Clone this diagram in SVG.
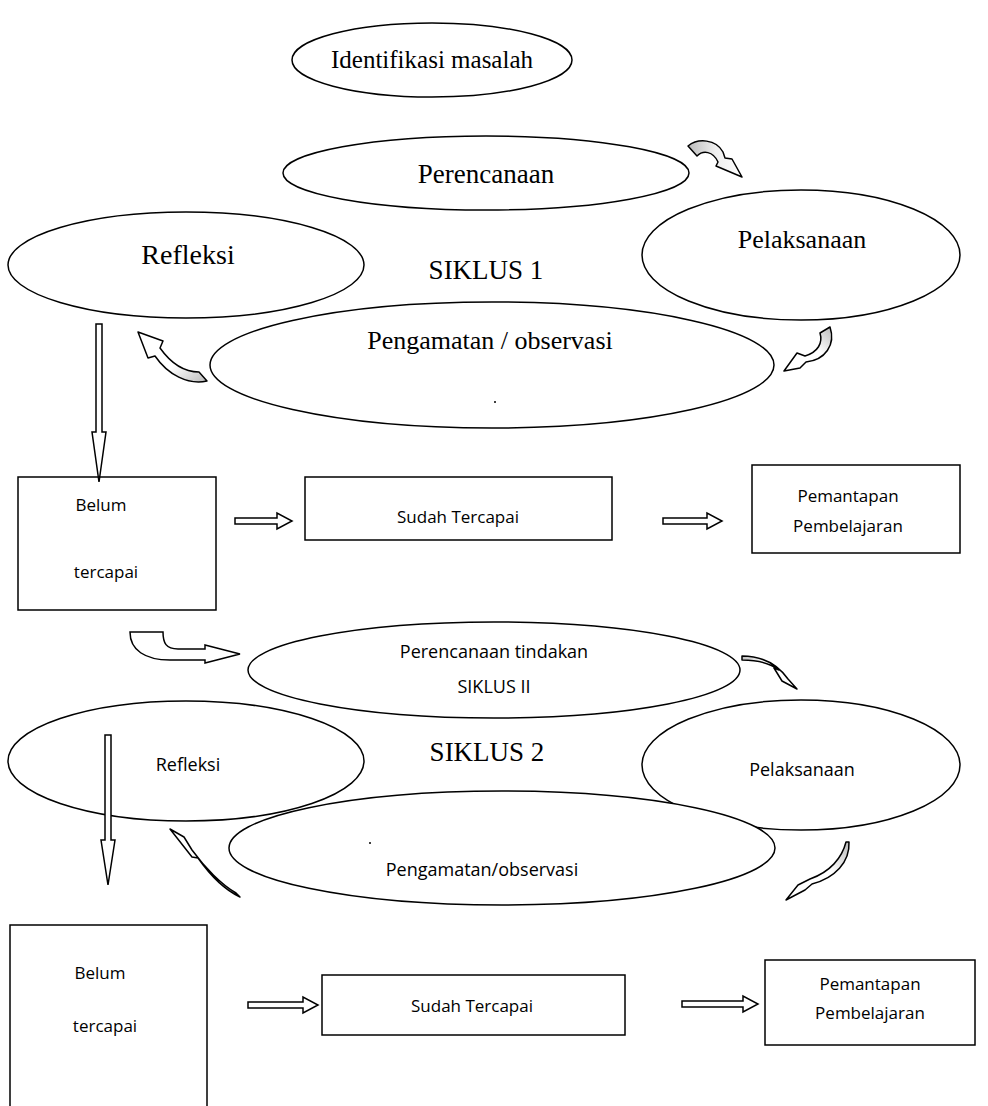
<svg xmlns="http://www.w3.org/2000/svg" width="988" height="1106" viewBox="0 0 988 1106">
<defs>
<style>
.n{fill:#fff;stroke:#000;stroke-width:1.5}
.s{font-family:"Liberation Serif",serif;font-size:26px;fill:#000;text-anchor:middle}
.t{font-family:"Open Sans","Liberation Sans",sans-serif;font-size:17px;fill:#000;text-anchor:middle}
.a{fill:#fff;stroke:#000;stroke-width:1.5;stroke-linejoin:miter}
.c{stroke:#000;stroke-width:1.5;stroke-linejoin:round}
</style>
<linearGradient id="gA" x1="0" y1="0" x2="1" y2="0"><stop offset="0" stop-color="#bbb"/><stop offset="0.5" stop-color="#eee"/><stop offset="1" stop-color="#fff"/></linearGradient>
<linearGradient id="gB" x1="1" y1="1" x2="0" y2="0"><stop offset="0" stop-color="#bbb"/><stop offset="0.4" stop-color="#fff"/></linearGradient>
<linearGradient id="gC" x1="1" y1="0" x2="0" y2="1"><stop offset="0" stop-color="#bbb"/><stop offset="0.4" stop-color="#fff"/></linearGradient>
<linearGradient id="gE" x1="0" y1="0" x2="1" y2="1"><stop offset="0" stop-color="#bbb"/><stop offset="0.3" stop-color="#fff"/></linearGradient>
</defs>

<g id="identifikasi"><ellipse class="n" cx="432" cy="60" rx="140" ry="37"/><text class="s" x="432" y="68" style="font-size:25px">Identifikasi masalah</text></g>
<g id="perencanaan1"><ellipse class="n" cx="486" cy="173" rx="203" ry="37"/><text class="s" x="486" y="183" style="font-size:27px">Perencanaan</text></g>
<g id="refleksi1"><ellipse class="n" cx="186" cy="265" rx="178" ry="53"/><text class="s" x="188" y="264" style="font-size:28px">Refleksi</text></g>
<g id="pelaksanaan1"><ellipse class="n" cx="801" cy="255" rx="159" ry="65"/><text class="s" x="802" y="248">Pelaksanaan</text></g>
<text class="s" x="486" y="279" style="font-size:27px">SIKLUS 1</text>
<g id="pengamatan1"><ellipse class="n" cx="492" cy="365" rx="282" ry="63"/><text class="s" x="490" y="349">Pengamatan / observasi</text><circle cx="495" cy="402" r="1" fill="#000"/></g>

<g id="belum1"><rect class="n" x="18" y="477" width="198" height="133"/><text class="t" x="101" y="511">Belum</text><text class="t" x="106" y="578">tercapai</text></g>
<g id="sudah1"><rect class="n" x="305" y="477" width="307" height="63"/><text class="t" x="458" y="523">Sudah Tercapai</text></g>
<g id="pemantapan1"><rect class="n" x="752" y="465" width="208" height="88"/><text class="t" x="848" y="502">Pemantapan</text><text class="t" x="848" y="532">Pembelajaran</text></g>

<g id="perencanaan2"><ellipse class="n" cx="494" cy="670" rx="246" ry="48"/><text class="t" x="494" y="658" style="font-size:18px">Perencanaan tindakan</text><text class="t" x="494" y="693" style="font-size:18px">SIKLUS II</text></g>
<g id="refleksi2"><ellipse class="n" cx="186" cy="761" rx="178" ry="60"/><text class="t" x="188" y="771" style="font-size:18px">Refleksi</text></g>
<text class="s" x="487" y="761" style="font-size:27px">SIKLUS 2</text>
<g id="pelaksanaan2"><ellipse class="n" cx="801" cy="765" rx="159" ry="65"/><text class="t" x="802" y="776" style="font-size:18px">Pelaksanaan</text></g>
<g id="pengamatan2"><ellipse class="n" cx="502" cy="848" rx="273" ry="57"/><text class="t" x="482" y="876" style="font-size:18px">Pengamatan/observasi</text><circle cx="370" cy="843" r="1" fill="#000"/></g>

<g id="belum2"><rect class="n" x="10" y="925" width="197" height="190"/><text class="t" x="100" y="979">Belum</text><text class="t" x="105" y="1032">tercapai</text></g>
<g id="sudah2"><rect class="n" x="322" y="975" width="303" height="60"/><text class="t" x="472" y="1012">Sudah Tercapai</text></g>
<g id="pemantapan2"><rect class="n" x="765" y="960" width="210" height="85"/><text class="t" x="870" y="990">Pemantapan</text><text class="t" x="870" y="1019">Pembelajaran</text></g>

<g id="connectors">
<path class="a" d="M96,324 L102,324 L102,432 L106,432 L99,482 L92,432 L96,432 Z"/>
<path class="a" d="M105,735 L111,735 L111,840 L115,840 L108,885 L101,840 L105,840 Z"/>
<path class="a" d="M235,518 L277,518 L277,513 L292,521 L277,529 L277,524 L235,524 Z"/>
<path class="a" d="M663,518 L707,518 L707,513 L722,521 L707,529 L707,524 L663,524 Z"/>
<path class="a" d="M248,1002 L303,1002 L303,997 L318,1005 L303,1013 L303,1008 L248,1008 Z"/>
<path class="a" d="M682,1001 L743,1001 L743,996 L758,1004 L743,1012 L743,1007 L682,1007 Z"/>
<path class="a" d="M130,632 L163,632 C163,643 166,649 178,649 L205,649 L205,645 L240,654 L205,663 L205,660 L170,660 C145,660 130,650 130,632 Z"/>
<path class="c" fill="url(#gA)" d="M688,146 C698,138 716,139 723,152 L725,158 L732,159 L742,177 L716,166 L718,162 C713,151 703,150 697,156 Z"/>
<path class="c" fill="url(#gB)" d="M207,381 C188,385 168,375 155,356 L148,358 L138,332 L163,341 L160,348 C170,362 183,372 199,372 Z"/>
<path class="c" fill="url(#gC)" d="M830,327 C836,345 825,360 806,362 L800,368 L784,371 L797,353 L805,356 C818,352 823,343 820,333 Z"/>
<path class="c" fill="url(#gE)" d="M742,656 C762,656 778,665 788,679 L797,689 L782,681 L774,668 L779,670 C770,663 758,660 742,660 Z"/>
<path class="c" fill="url(#gC)" d="M240,897 C225,890 210,875 198,858 L192,857 L170,829 L184,837 L192,850 C205,868 222,885 236,893 Z"/>
<path class="c" fill="url(#gC)" d="M849,842 C850,862 835,878 812,884 L805,890 L786,900 L798,885 L810,879 C830,872 842,858 846,842 Z"/>
</g>
</svg>
